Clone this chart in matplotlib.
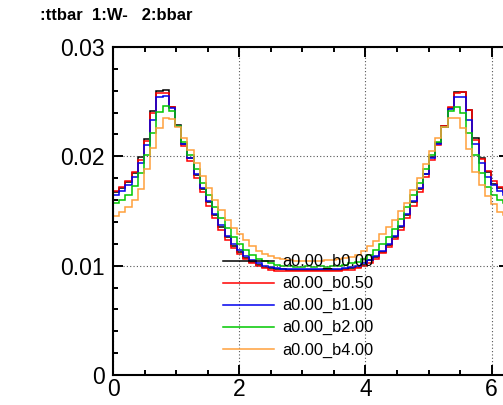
import numpy as np
import matplotlib
matplotlib.use('Agg')
import matplotlib.pyplot as plt
from matplotlib.lines import Line2D
from matplotlib.ticker import MultipleLocator, FuncFormatter

plt.rcParams['font.family'] = ['Liberation Sans', 'DejaVu Sans']

# 64 bins over 0..2pi
n_bins = 64
x_range = (0, 2 * np.pi)

h_b000 = [0.01675, 0.01712, 0.01768, 0.01850, 0.01995, 0.02155, 0.02410, 0.02600,
          0.02602, 0.02455, 0.02288, 0.02110, 0.01985, 0.01830, 0.01700, 0.01578,
          0.01460, 0.01352, 0.01262, 0.01182, 0.01125, 0.01072, 0.01035, 0.01005,
          0.00988, 0.00975, 0.00968, 0.00965, 0.00962, 0.00960, 0.00958, 0.00962,
          0.00961, 0.00958, 0.00962, 0.00960, 0.00964, 0.00970, 0.00976, 0.00990,
          0.01008, 0.01050, 0.01078, 0.01128, 0.01185, 0.01265, 0.01355, 0.01462,
          0.01580, 0.01702, 0.01835, 0.01995, 0.02125, 0.02280, 0.02440, 0.02592,
          0.02592, 0.02420, 0.02165, 0.01985, 0.01860, 0.01748, 0.01710, 0.01672]
h_b050 = [0.01682, 0.01722, 0.01775, 0.01858, 0.01965, 0.02140, 0.02400, 0.02575,
          0.02580, 0.02455, 0.02280, 0.02095, 0.01960, 0.01805, 0.01672, 0.01548,
          0.01432, 0.01328, 0.01238, 0.01165, 0.01110, 0.01060, 0.01022, 0.00995,
          0.00975, 0.00962, 0.00955, 0.00950, 0.00950, 0.00948, 0.00950, 0.00952,
          0.00950, 0.00952, 0.00948, 0.00951, 0.00950, 0.00956, 0.00962, 0.00978,
          0.00996, 0.01024, 0.01062, 0.01112, 0.01168, 0.01240, 0.01330, 0.01435,
          0.01550, 0.01675, 0.01810, 0.01965, 0.02105, 0.02275, 0.02450, 0.02575,
          0.02585, 0.02420, 0.02150, 0.01975, 0.01865, 0.01770, 0.01722, 0.01680]
h_b100 = [0.01647, 0.01682, 0.01735, 0.01810, 0.01935, 0.02105, 0.02330, 0.02540,
          0.02548, 0.02440, 0.02275, 0.02115, 0.01985, 0.01840, 0.01710, 0.01590,
          0.01475, 0.01368, 0.01275, 0.01195, 0.01140, 0.01090, 0.01050, 0.01020,
          0.00998, 0.00985, 0.00975, 0.00970, 0.00968, 0.00966, 0.00965, 0.00966,
          0.00965, 0.00967, 0.00965, 0.00968, 0.00970, 0.00976, 0.00985, 0.01000,
          0.01020, 0.01048, 0.01088, 0.01138, 0.01195, 0.01272, 0.01365, 0.01470,
          0.01588, 0.01708, 0.01838, 0.01982, 0.02112, 0.02272, 0.02430, 0.02545,
          0.02540, 0.02335, 0.02110, 0.01940, 0.01815, 0.01738, 0.01684, 0.01650]
h_b200 = [0.01577, 0.01605, 0.01650, 0.01725, 0.01850, 0.02015, 0.02215, 0.02405,
          0.02458, 0.02415, 0.02275, 0.02135, 0.02015, 0.01885, 0.01760, 0.01645,
          0.01535, 0.01432, 0.01340, 0.01260, 0.01198, 0.01142, 0.01098, 0.01062,
          0.01038, 0.01020, 0.01008, 0.01000, 0.00995, 0.00992, 0.00992, 0.00993,
          0.00992, 0.00993, 0.00991, 0.00995, 0.01000, 0.01008, 0.01020, 0.01036,
          0.01060, 0.01095, 0.01140, 0.01195, 0.01258, 0.01338, 0.01430, 0.01532,
          0.01642, 0.01758, 0.01882, 0.02012, 0.02132, 0.02270, 0.02410, 0.02452,
          0.02400, 0.02210, 0.02010, 0.01845, 0.01720, 0.01648, 0.01602, 0.01575]
h_b400 = [0.01458, 0.01490, 0.01535, 0.01600, 0.01700, 0.01880, 0.02080, 0.02262,
          0.02352, 0.02340, 0.02265, 0.02165, 0.02055, 0.01940, 0.01820, 0.01708,
          0.01605, 0.01508, 0.01420, 0.01348, 0.01290, 0.01235, 0.01180, 0.01135,
          0.01105, 0.01085, 0.01068, 0.01058, 0.01050, 0.01046, 0.01045, 0.01044,
          0.01045, 0.01046, 0.01048, 0.01052, 0.01058, 0.01066, 0.01082, 0.01102,
          0.01130, 0.01180, 0.01225, 0.01290, 0.01350, 0.01420, 0.01500, 0.01575,
          0.01690, 0.01805, 0.01930, 0.02045, 0.02165, 0.02270, 0.02350, 0.02355,
          0.02258, 0.02070, 0.01860, 0.01740, 0.01640, 0.01560, 0.01495, 0.01460]

hists = [h_b000, h_b050, h_b100, h_b200, h_b400]
labels = ['a0.00_b0.00', 'a0.00_b0.50', 'a0.00_b1.00', 'a0.00_b2.00', 'a0.00_b4.00']
colors = ['black', '#ff0000', '#0000ee', '#00c800', '#ffa03c']

edges = np.linspace(x_range[0], x_range[1], n_bins + 1)

fig = plt.figure(figsize=(5.03, 4.05), dpi=100)
ax = fig.add_axes([0.2247, 0.0741, 0.7882, 0.8099])

for h, c in zip(hists, colors):
    ax.stairs(h, edges, baseline=0, color=c, linewidth=1.1)

ax.set_xlim(x_range)
ax.set_ylim(0, 0.03)
ax.xaxis.set_major_locator(MultipleLocator(2))
ax.xaxis.set_minor_locator(MultipleLocator(0.5))
ax.yaxis.set_major_locator(MultipleLocator(0.01))
ax.yaxis.set_minor_locator(MultipleLocator(0.002))
ax.yaxis.set_major_formatter(FuncFormatter(lambda v, p: '0' if abs(v) < 1e-9 else '%.2f' % v))
ax.xaxis.set_major_formatter(FuncFormatter(lambda v, p: '%d' % round(v)))
ax.tick_params(which='both', direction='in', top=True, right=True, width=1.4,
               labelsize=16.5)
ax.tick_params(which='major', length=7.5)
ax.tick_params(which='minor', length=3.8)
ax.tick_params(axis='x', pad=2)
ax.tick_params(axis='y', pad=6)
for s in ax.spines.values():
    s.set_linewidth(1.5)
ax.grid(True, which='major', linestyle=(0, (1, 2)), color='#555555', linewidth=0.8)

handles = [Line2D([], [], color=c, linewidth=1.1) for c in colors]
ax.legend(handles, labels, loc='upper left', bbox_to_anchor=(0.277, 0.368),
          frameon=False, fontsize=11.8, borderpad=0, borderaxespad=0,
          handlelength=3.1, handletextpad=0.55, labelspacing=0.42)

fig.text(40 / 503, 1 - 15 / 405, ':ttbar  1:W-   2:bbar', fontweight='bold',
         fontsize=12, va='center', ha='left')

fig.savefig('out.png', dpi=100)
